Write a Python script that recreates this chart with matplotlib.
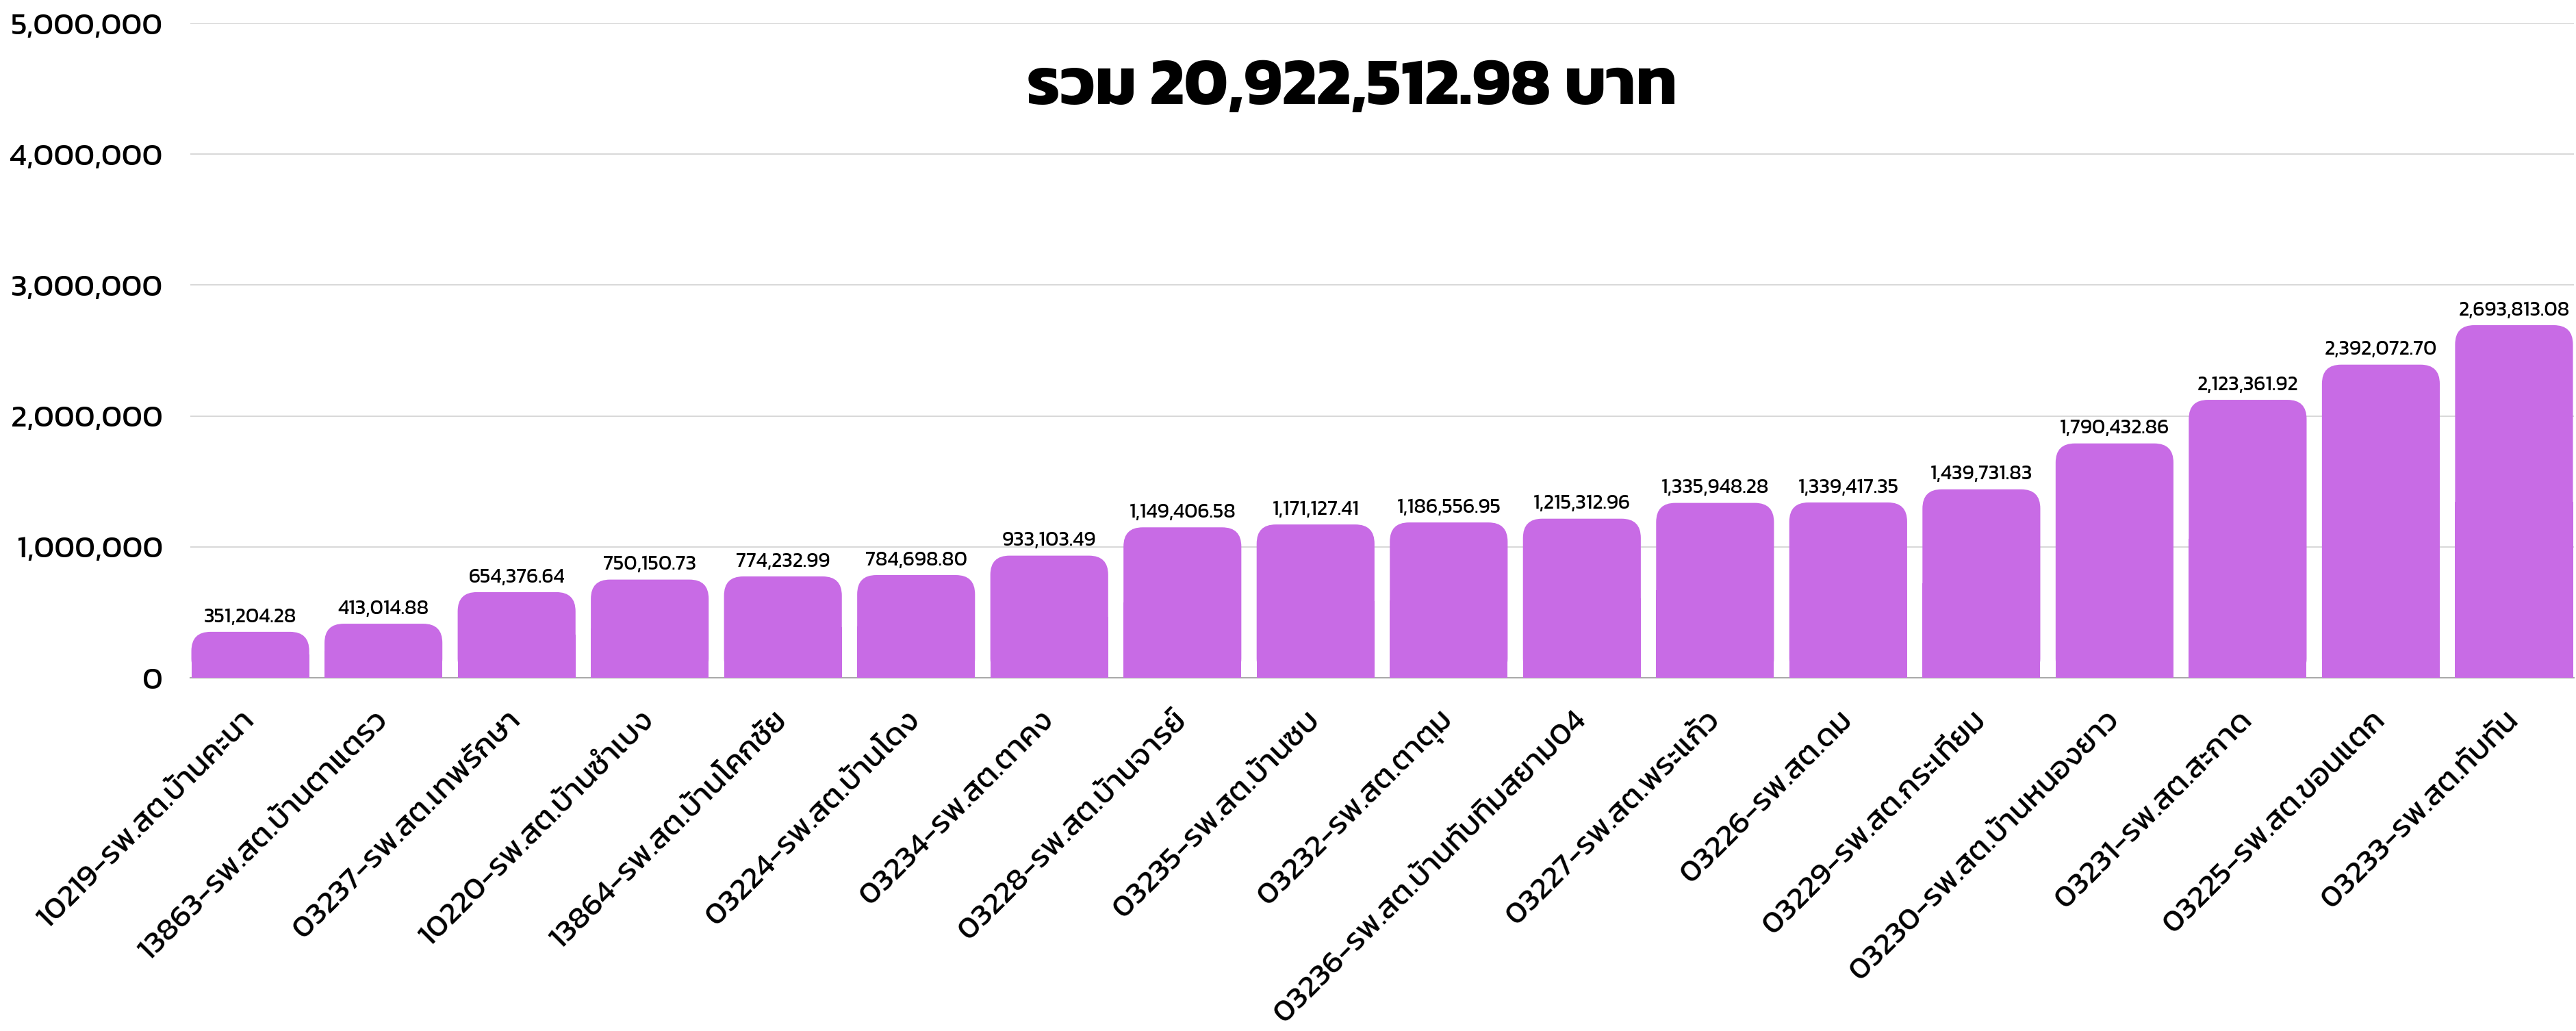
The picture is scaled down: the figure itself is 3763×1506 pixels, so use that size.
import matplotlib
matplotlib.use("Agg")
import matplotlib.pyplot as plt
from matplotlib.patches import FancyBboxPatch, Rectangle
from matplotlib.transforms import ScaledTranslation


stations = [
    "10219-รพ.สต.บ้านคะนา", "13863-รพ.สต.บ้านตาแตรว", "03237-รพ.สต.เทพรักษา",
    "10220-รพ.สต.บ้านซำเบง", "13864-รพ.สต.บ้านโคกชัย", "03224-รพ.สต.บ้านโดง",
    "03234-รพ.สต.ตาคง", "03228-รพ.สต.บ้านจารย์", "03235-รพ.สต.บ้านซบ",
    "03232-รพ.สต.ตาตุม", "03236-รพ.สต.บ้านทับทิมสยาม04", "03227-รพ.สต.พระแก้ว",
    "03226-รพ.สต.ดม", "03229-รพ.สต.กระเทียม", "03230-รพ.สต.บ้านหนองยาว",
    "03231-รพ.สต.สะกาด", "03225-รพ.สต.ขอนแตก", "03233-รพ.สต.ทับทัน",
]
amounts = [
    351204.28, 413014.88, 654376.64, 750150.73, 774232.99, 784698.80,
    933103.49, 1149406.58, 1171127.41, 1186556.95, 1215312.96, 1335948.28,
    1339417.35, 1439731.83, 1790432.86, 2123361.92, 2392072.70, 2693813.08,
]
y_ticks = [0, 1000000, 2000000, 3000000, 4000000, 5000000]
title_text = "รวม 20,922,512.98 บาท"

BAR_COLOR = "#C86BE5"

plt.rcParams["font.family"] = ["Kanit", "DejaVu Sans"]

fig = plt.figure(figsize=(37.63, 15.06), dpi=100)
ax = fig.add_axes([0.0739, 0.3426, 0.9253, 0.6348])

x = list(range(len(stations)))
bar_width = 0.885
bars = ax.bar(x, amounts, width=bar_width, color=BAR_COLOR, zorder=3)
ax.set_xlim(-0.45, len(stations) - 0.55)
ax.set_ylim(0, 5000000)

# rounded tops: swap each bar for a rounded box + square bottom
ax_w_px = fig.get_figwidth() * fig.dpi * ax.get_position().width
ax_h_px = fig.get_figheight() * fig.dpi * ax.get_position().height
ux = (ax.get_xlim()[1] - ax.get_xlim()[0]) / ax_w_px
uy = (ax.get_ylim()[1] - ax.get_ylim()[0]) / ax_h_px
radius_px = 28
for b in bars:
    bx, by, bw, bh = b.get_x(), b.get_y(), b.get_width(), b.get_height()
    b.set_visible(False)
    ax.add_patch(FancyBboxPatch(
        (bx, by), bw, bh,
        boxstyle=f"round,pad=0,rounding_size={radius_px * ux}",
        mutation_aspect=uy / ux, facecolor=BAR_COLOR, edgecolor="none", zorder=3))
    ax.add_patch(Rectangle((bx, by), bw, bh / 2, facecolor=BAR_COLOR,
                           edgecolor="none", zorder=3))

ax.bar_label(bars, labels=[f"{v:,.2f}" for v in amounts], padding=6,
             fontsize=21.5, zorder=4)

ax.set_yticks(y_ticks)
ax.set_yticklabels([f"{v:,}" for v in y_ticks], fontsize=33)
ax.set_xticks(x)
ax.set_xticklabels(stations, rotation=45, ha="right", va="center",
                   rotation_mode="anchor", fontsize=33)
shift = ScaledTranslation(14 / 100, 0, fig.dpi_scale_trans)
for lbl in ax.get_xticklabels():
    lbl.set_transform(lbl.get_transform() + shift)
ax.tick_params(axis="both", length=0)
ax.tick_params(axis="y", pad=29)
ax.tick_params(axis="x", pad=40)

ax.grid(axis="y", color="#D9D9D9", linewidth=1.5, zorder=0)
for side in ["top", "right", "left"]:
    ax.spines[side].set_visible(False)
ax.spines["bottom"].set_color("#AAAAAA")
ax.spines["bottom"].set_linewidth(1.5)

ax.text(0.4875, 0.90, title_text, transform=ax.transAxes, ha="center",
        va="center", fontsize=69, fontweight="bold", zorder=5)

fig.savefig("out.png", dpi=100, facecolor="white")
